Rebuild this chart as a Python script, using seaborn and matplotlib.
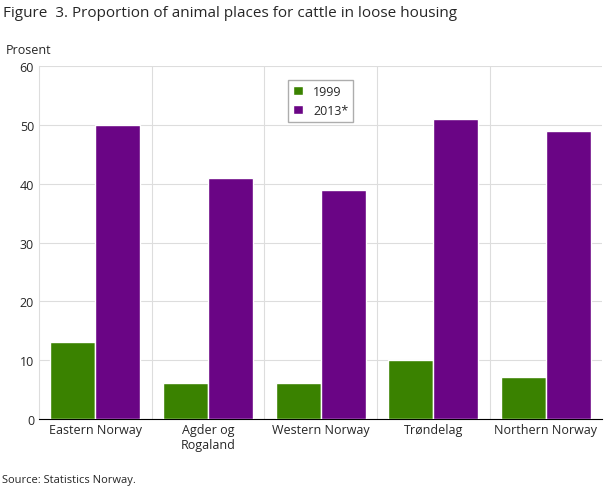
import matplotlib
matplotlib.use("Agg")
import matplotlib.pyplot as plt
import seaborn as sns
import pandas as pd

regions = ["Eastern Norway", "Agder og\nRogaland", "Western Norway", "Trøndelag", "Northern Norway"]
v1999 = [13, 6, 6, 10, 7]
v2013 = [50, 41, 39, 51, 49]

df = pd.DataFrame({"region": regions * 2, "value": v1999 + v2013,
                   "year": ["1999"] * 5 + ["2013*"] * 5})

sns.set_style("white")
plt.rcParams['font.family'] = ['Open Sans', 'DejaVu Sans']
fig = plt.figure(figsize=(6.09, 4.89), dpi=100)
ax = fig.add_axes([0.064, 0.142, 0.925, 0.72])
sns.barplot(data=df, x="region", y="value", hue="year", palette=["#3a8200", "#6a0585"],
            width=0.8, saturation=1, ax=ax, zorder=3)
ax.set_ylim(0, 60)
ax.set_xlim(-0.5, 4.5)
ax.set_yticks(range(0, 61, 10))
for y in range(10, 61, 10):
    ax.axhline(y, color="#dddddd", lw=0.8, zorder=0)
for x in [0.5, 1.5, 2.5, 3.5]:
    ax.axvline(x, color="#dddddd", lw=0.8, zorder=0)
for s in ["top", "right"]:
    ax.spines[s].set_visible(False)
ax.spines["left"].set_color("#dddddd")
ax.spines["bottom"].set_color("#000000")
ax.set_xlabel("")
ax.set_ylabel("")
ax.tick_params(labelsize=9, length=0)
ax.legend(title=None, loc="upper center", bbox_to_anchor=(0.5, 0.98), fontsize=9,
          frameon=True, fancybox=False, edgecolor="#999999", handlelength=0.8)
fig.text(0.005, 0.965, "Figure  3. Proportion of animal places for cattle in loose housing", fontsize=11)
fig.text(0.01, 0.89, "Prosent", fontsize=9)
fig.text(0.003, 0.012, "Source: Statistics Norway.", fontsize=8)
fig.savefig("out.png", dpi=100)
